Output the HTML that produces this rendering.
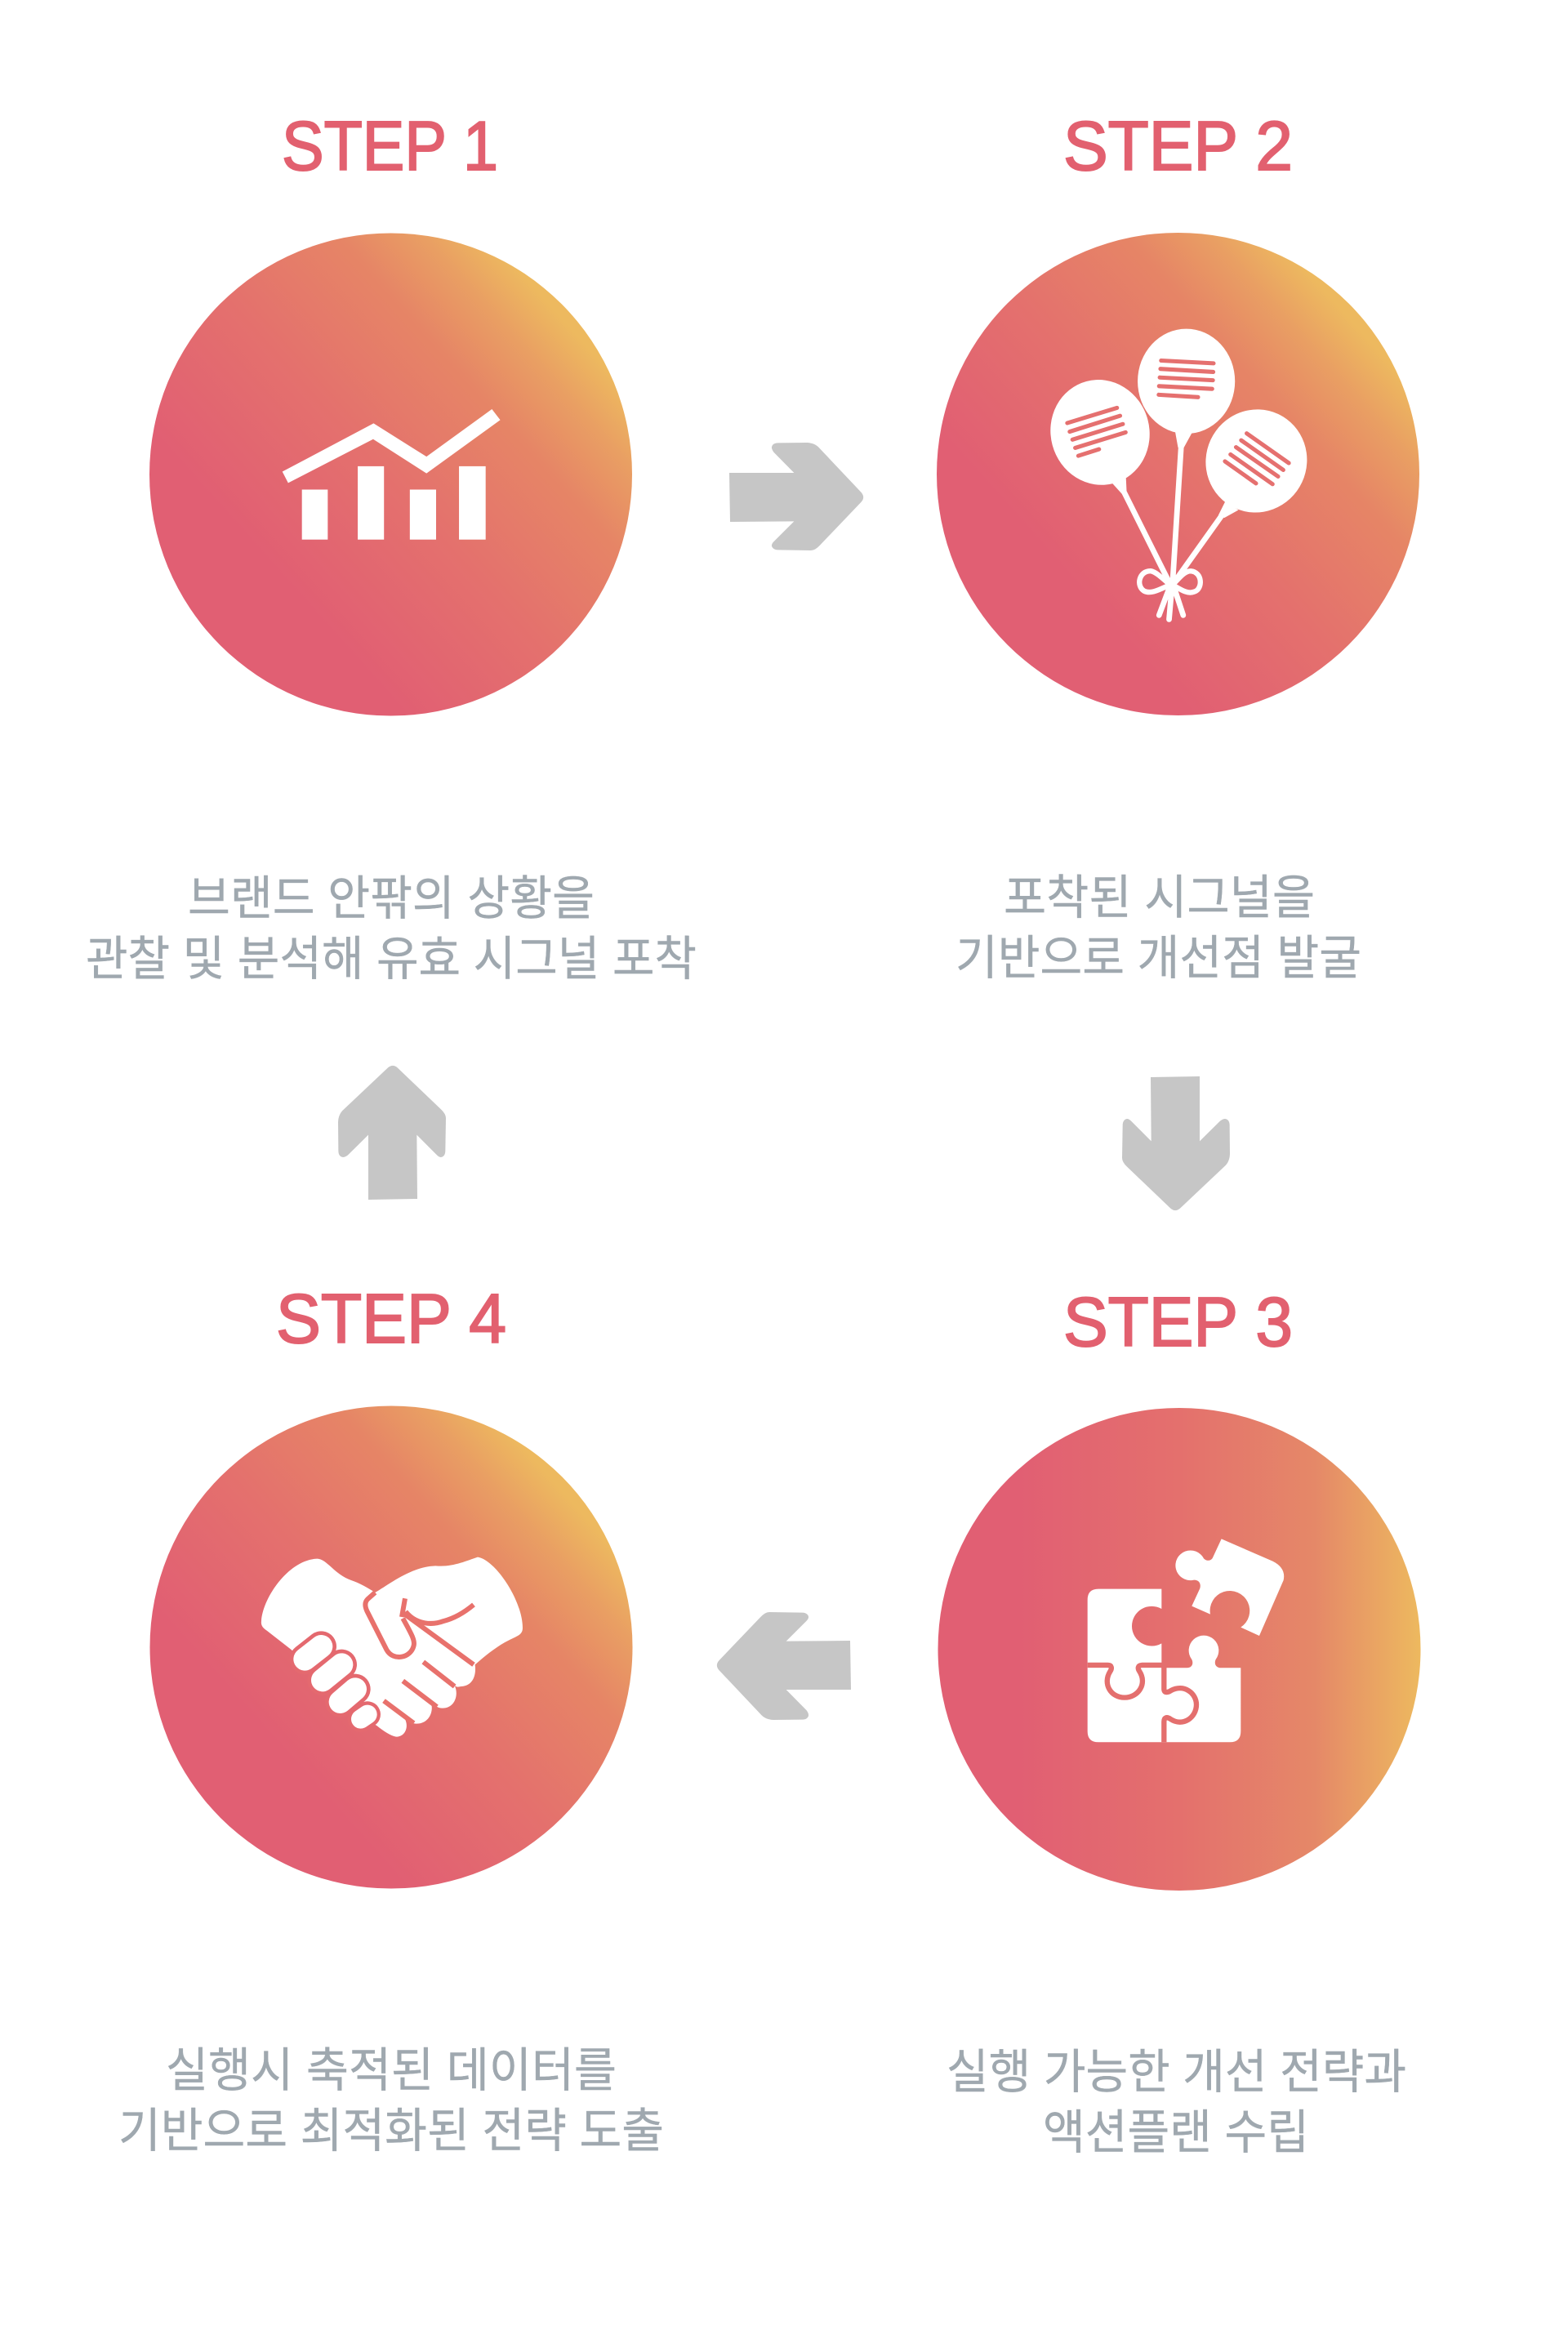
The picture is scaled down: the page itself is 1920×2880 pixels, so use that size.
<!DOCTYPE html>
<html lang="ko"><head><meta charset="utf-8"><title>Steps</title>
<style>html,body{margin:0;padding:0;background:#fff}svg{display:block}
.s{font-family:"Liberation Sans",sans-serif;font-size:85px;fill:#e2606f;stroke:#e2606f;stroke-width:2}
.t{font-family:"Liberation Sans","Noto Sans CJK KR",sans-serif;font-size:58px;fill:#9fa8af;stroke:#9fa8af;stroke-width:.4}</style></head>
<body>
<svg width="1920" height="2880" viewBox="0 0 1920 2880" xmlns="http://www.w3.org/2000/svg">
<defs>
<linearGradient id="g" x1=".1275" y1=".8335" x2=".8725" y2=".1665">
<stop offset=".19" stop-color="#e15f73"/><stop offset=".5" stop-color="#e4716d"/><stop offset=".75" stop-color="#e68566"/><stop offset=".88" stop-color="#e99f63"/><stop offset=".98" stop-color="#edb95f"/></linearGradient>
<linearGradient id="h" x1="0" y1="0" x2="1" y2="0">
<stop offset=".17" stop-color="#e15f73"/><stop offset=".5" stop-color="#e4706d"/><stop offset=".78" stop-color="#e58868"/><stop offset="1" stop-color="#edb95f"/></linearGradient>
<path id="a" transform="scale(.3333) translate(-100,-295)" fill="#c6c6c6" d="M100 208H338L264 133Q250 115 260 105Q266 98 280 98L385 97Q415 98 432 118L585 280Q600 298 585 315L432 475Q415 493 400 493L280 491Q266 491 260 484Q250 474 264 460L338 386L103 388Z"/>
</defs>

<circle cx="478.5" cy="581" r="295.5" fill="url(#g)"/>
<circle cx="1442.5" cy="580.5" r="295.5" fill="url(#g)"/>
<circle cx="1444" cy="2019.5" r="295.5" fill="url(#h)"/>
<circle cx="479" cy="2017" r="295.5" fill="url(#g)"/>

<text class="s" x="345" y="208" textLength="265" lengthAdjust="spacingAndGlyphs">STEP 1</text>
<text class="s" x="1302" y="208" textLength="281" lengthAdjust="spacingAndGlyphs">STEP 2</text>
<text class="s" x="1302" y="1648" textLength="281" lengthAdjust="spacingAndGlyphs">STEP 3</text>
<text class="s" x="338" y="1644" textLength="282" lengthAdjust="spacingAndGlyphs">STEP 4</text>

<text class="t" x="230" y="1120" textLength="498" lengthAdjust="spacingAndGlyphs">브랜드 안팎의 상황을</text>
<text class="t" x="105" y="1194" textLength="748" lengthAdjust="spacingAndGlyphs">관찰 및 분석해 유효 시그널 포착</text>
<text class="t" x="1229" y="1119" textLength="381" lengthAdjust="spacingAndGlyphs">포착된 시그널을</text>
<text class="t" x="1170" y="1193" textLength="497" lengthAdjust="spacingAndGlyphs">기반으로 개선점 발굴</text>
<text class="t" x="1159" y="2557" textLength="563" lengthAdjust="spacingAndGlyphs">실행 가능한 개선 전략과</text>
<text class="t" x="1277" y="2631" textLength="326" lengthAdjust="spacingAndGlyphs">액션플랜 수립</text>
<text class="t" x="203" y="2555" textLength="552" lengthAdjust="spacingAndGlyphs">실행시 축적된 데이터를</text>
<text class="t" x="145" y="2629" textLength="668" lengthAdjust="spacingAndGlyphs">기반으로 최적화된 전략 도출</text>

<use href="#a" transform="translate(893,608)"/>
<use href="#a" transform="translate(480,1469) rotate(-90)"/>
<use href="#a" transform="translate(1440,1318) rotate(90)"/>
<use href="#a" transform="translate(1042,2040) rotate(180)"/>

<!-- chart -->
<g transform="translate(160,100) scale(.5102)" fill="#fff">
<polygon points="364,936 583,820 710,900 867,786 887,812 710,940 582,858 378,963"/>
<rect x="411" y="979" width="62" height="120"/><rect x="545" y="923" width="63" height="176"/>
<rect x="670" y="979" width="63" height="120"/><rect x="788" y="923" width="64" height="176"/>
</g>

<!-- balloons -->
<g transform="translate(1099,259) scale(.4225)">
<g fill="#fff">
<ellipse cx="587" cy="640" rx="143" ry="153" transform="rotate(-15 587 640)"/>
<ellipse cx="837" cy="492" rx="141" ry="152"/>
<ellipse cx="1040" cy="723" rx="146" ry="150" transform="rotate(25 1040 723)"/>
<polygon points="620,785 662,770 664,812 650,818"/>
<polygon points="805,640 853,642 830,684 813,684"/>
<polygon points="950,840 988,865 947,888 930,880"/>
</g>
<g stroke="#fff" fill="none" stroke-width="16" stroke-linecap="round">
<path d="M656 812L790 1080M822 680L797 1080M939 882L805 1070"/>
<path stroke-width="15" d="M790 1082C770 1065 750 1045 735 1042C700 1040 690 1085 715 1100C735 1110 760 1095 790 1082Z"/>
<path stroke-width="15" d="M797 1082C815 1065 830 1042 850 1042C885 1045 885 1095 860 1102C840 1110 820 1095 797 1082Z"/>
<path d="M790 1085L758 1170M795 1090L787 1182M800 1085L828 1170"/>
</g>
<g stroke="#e5706f" fill="none" stroke-width="12" stroke-linecap="round">
<path d="M492 613L636 569M499 638L645 592M507 661L653 616M515 685L661 640M524 708L584 689"/>
<path d="M764 432L916 440M762 456L915 465M760 481L914 489M758 506L912 514M757 531L871 538"/>
<path d="M1012 643L1134 729M996 663L1118 749M981 683L1103 768M965 704L1087 790M949 724L1039 788"/>
</g>
</g>

<!-- puzzle -->
<g transform="translate(1250,1820) scale(.3333)">
<path fill="#fff" d="M285 377H517V450A73 73 0 1 0 517 577V667H610C630 667 635 650 628 636A55 55 0 1 1 716 636C708 655 720 667 735 667H808V900Q808 940 768 940H285Q245 940 245 900V417Q245 377 285 377Z"/>
<path fill="none" stroke="#e46f6e" stroke-width="19" d="M245 657H320C335 657 335 670 328 680C300 725 330 776 381 776C432 776 465 725 436 680C428 668 430 657 445 657H526V745C526 760 540 758 552 750C600 725 645 760 645 802C645 850 595 885 550 855C535 845 526 850 526 865V940"/>
<path fill="#fff" d="M737 193L925 275Q975 300 965 345L876 549L808 518A73 73 0 1 0 696 470L628 440L658 375C665 350 645 340 630 345A55 55 0 1 1 672 265C685 278 700 272 705 262Z"/>
</g>

<!-- handshake -->
<g transform="translate(290,1860) scale(.3333)">
<path fill="#fff" d="M90 375C95 290 190 150 295 146C330 146 360 205 420 225C450 235 480 252 508 270C560 240 640 175 730 172C790 178 840 155 885 140C950 150 1050 300 1050 400C1050 425 1030 430 1000 445C950 470 910 505 875 535C880 570 870 612 825 615C815 616 810 620 800 612C815 640 805 695 755 695C740 695 725 685 712 672C725 700 710 752 660 752C640 752 625 740 610 725C635 750 625 800 585 800C565 797 540 780 515 760L420 700L200 480L110 410C95 400 88 390 90 375Z"/>
<g fill="none" stroke-linecap="round">
<path stroke="#e4696f" stroke-width="112" d="M250 515L310 468M315 592L385 535M380 672L435 625"/>
<path stroke="#e4696f" stroke-width="96" d="M455 735L480 718"/>
<path stroke="#fff" stroke-width="84" d="M250 515L310 468M315 592L385 535M380 672L435 625"/>
<path stroke="#fff" stroke-width="70" d="M455 735L480 718"/>
</g>
<g fill="none" stroke="#e8716c" stroke-width="18">
<path d="M508 270L480 295C470 305 470 320 478 338L550 480C575 525 640 510 650 465C655 445 640 420 610 365"/>
<path d="M618 292L606 360"/>
<path d="M610 345L870 535"/>
<path d="M620 340C660 390 720 390 760 375C800 365 840 340 870 315"/>
<path d="M685 525L800 615M610 595L735 690M540 668L650 750"/>
</g>
</g>
</svg>
</body></html>
